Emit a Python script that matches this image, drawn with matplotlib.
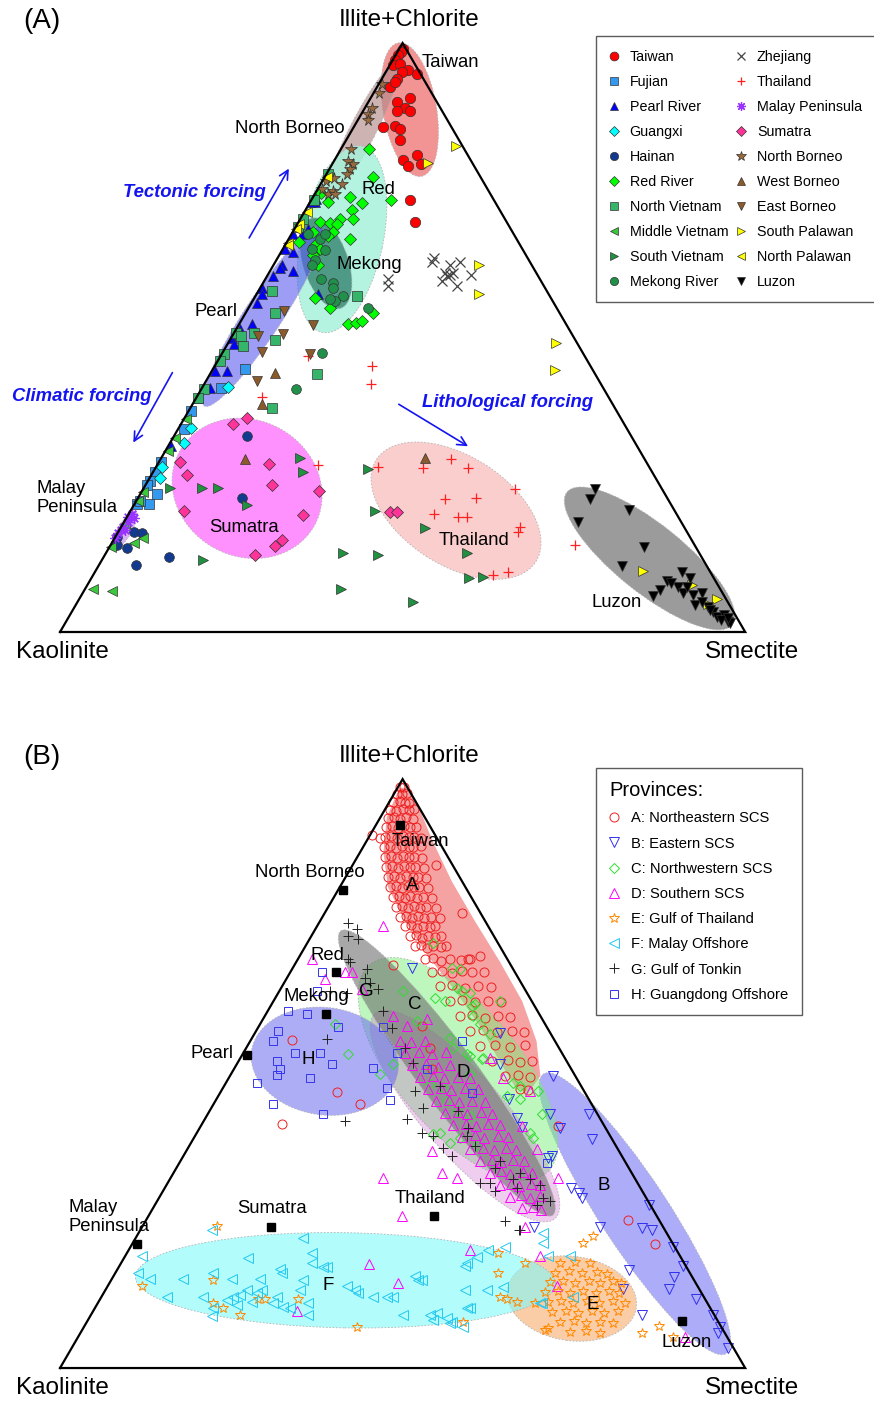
import numpy as np
import matplotlib.pyplot as plt
from matplotlib.patches import Ellipse, Polygon

plt.rcParams['font.family'] = ['Liberation Sans', 'DejaVu Sans']

H = np.sqrt(3) / 2

# Every sample is (illite+chlorite %, smectite %); kaolinite is the remainder.

# ---------------- (A) river / source-rock samples ----------------
taiwan = [(99.0, 0.5), (98.5, 0.5), (98.0, 0.3), (97.1, 0.3), (96.3, 0.5), (96.4, 1.4), (95.4, 3.1),
          (95.1, 2.3), (93.9, 2.3), (92.6, 1.9), (93.4, 2.2), (94.8, 4.7), (90.0, 4.2), (90.7, 5.8),
          (89.0, 5.9), (88.5, 6.9), (88.5, 5.0), (85.8, 4.3), (86.0, 5.9), (85.4, 6.9), (83.6, 7.8),
          (81.0, 11.6), (80.2, 10.0), (79.2, 11.2), (79.5, 13.0), (73.3, 14.5), (69.7, 16.9)]
fujian = [(44.7, 4.7), (41.5, 2.7), (37.6, 0.3), (34.5, 0.9), (27.2, 0.3), (25.7, 0.3), (23.5, 2.4),
          (21.8, 2.1), (21.8, 0.3), (24.9, 0.3), (28.8, 0.3), (22.3, 0.5)]
pearl_river = [(73.6, 0.5), (73.1, 0.7), (73.0, 0.2), (68.5, 2.0), (67.5, 1.6), (67.5, 0.3), (65.1, 0.3),
               (64.6, 1.7), (62.4, 1.2), (61.3, 3.4), (60.4, 0.9), (61.8, 1.2), (58.4, 0.3), (57.4, 0.8),
               (55.8, 0.9), (57.4, 9.0), (52.3, 1.9), (51.4, 0.6), (49.9, 0.2), (48.9, 0.9), (44.3, 0.4),
               (44.3, 2.2), (41.5, 1.2), (39.8, 0.2), (31.5, 0.5)]
guangxi = [(41.6, 3.7), (34.7, 1.7), (32.1, 2.1), (28.1, 0.9), (26.1, 1.6)]
hainan = [(33.3, 10.7), (22.8, 15.2), (16.9, 2.4), (16.8, 3.6), (16.2, 0.2), (14.7, 0.9), (14.2, 2.7),
          (12.7, 9.6), (11.3, 5.5)]
red_river = [(82.1, 4.0), (77.3, 7.0), (77.2, 0.5), (74.5, 0.8), (73.1, 2.6), (73.9, 5.3), (72.8, 7.7),
             (71.7, 6.7), (70.2, 7.7), (70.2, 5.8), (69.7, 3.1), (69.4, 4.7), (69.2, 5.8), (68.0, 5.9),
             (68.0, 2.9), (67.2, 5.5), (65.8, 4.3), (65.1, 5.4), (64.1, 4.9), (66.8, 8.9), (62.4, 6.5),
             (56.7, 8.8), (55.0, 11.9), (52.3, 15.9), (52.5, 16.9), (52.8, 17.7), (54.1, 18.6),
             (73.3, 11.6), (66.3, 1.8)]
north_vietnam = [(77.7, 0.3), (73.4, 0.3), (70.2, 0.3), (68.8, 0.3), (57.9, 2.0), (54.1, 4.3), (57.0, 14.9),
                 (50.8, 0.3), (50.3, 1.2), (50.7, 2.9), (48.6, 2.4), (49.6, 6.6), (47.2, 0.3), (46.0, 0.3),
                 (41.3, 0.3), (39.8, 0.3), (43.8, 15.6), (38.1, 11.9)]
middle_vietnam = [(36.2, 0.3), (33.0, 0.3), (30.8, 0.3), (23.7, 0.3), (22.3, 0.3), (18.4, 0.3), (15.1, 3.2),
                  (15.9, 4.1), (14.4, 0.3), (7.3, 1.2), (6.9, 4.2)]
south_vietnam = [(24.5, 3.8), (24.4, 8.5), (24.5, 10.8), (21.5, 16.6), (29.6, 20.2), (27.2, 21.9),
                 (27.7, 31.1), (20.6, 35.7), (13.4, 34.6), (13.0, 39.9), (12.2, 14.8), (7.3, 37.3),
                 (5.1, 48.9), (17.6, 44.5), (13.4, 52.7), (9.1, 55.1), (9.3, 57.1)]
mekong_river = [(67.5, 2.4), (66.8, 4.6), (67.5, 4.9), (65.1, 4.2), (64.8, 6.3), (63.1, 5.6), (62.4, 5.6),
                (59.9, 8.2), (59.2, 10.3), (58.4, 10.7), (57.0, 12.8), (56.2, 12.0), (56.5, 11.1),
                (55.0, 17.5), (47.4, 14.5), (41.3, 13.8)]
zhejiang = [(63.5, 22.8), (62.9, 22.8), (62.4, 25.7), (62.9, 26.9), (60.9, 25.7), (60.4, 26.3), (60.7, 26.5),
            (60.9, 26.9), (59.6, 26.0), (58.7, 28.6), (60.7, 29.7), (59.9, 17.9), (58.7, 18.5)]
thailand = [(46.9, 12.7), (45.2, 22.9), (42.1, 24.4), (39.9, 9.5), (28.4, 23.5), (28.1, 32.3), (29.4, 42.4),
            (27.9, 39.0), (27.9, 45.6), (24.2, 54.3), (22.5, 44.9), (22.7, 49.3), (20.1, 44.6), (19.5, 48.3),
            (19.5, 49.6), (17.9, 58.2), (16.9, 58.4), (9.6, 58.4), (10.2, 60.3), (14.7, 67.8)]
malay_peninsula = [(20.1, 0.4), (19.3, 1.1), (18.6, 0.6), (17.8, 0.3), (17.3, 0.2), (16.8, 0.1), (15.9, 0.1),
                   (17.3, 0.9), (19.5, 0.1)]
sumatra = [(35.4, 7.6), (36.4, 9.1), (28.8, 3.1), (26.6, 5.2), (28.6, 16.2), (24.9, 18.5), (23.9, 25.8),
           (20.5, 7.8), (19.8, 25.6), (15.7, 24.5), (14.6, 24.1), (13.0, 22.0), (20.3, 38.0), (20.3, 39.1)]
north_borneo = [(93.0, 0.5), (91.5, 0.8), (88.0, 1.0), (87.0, 1.5), (82.0, 1.5), (80.0, 2.0), (79.4, 3.1),
                (78.7, 3.0), (77.7, 3.1), (76.1, 3.1), (74.8, 2.5), (74.3, 2.0), (74.3, 3.0), (76.5, 0.5),
                (75.3, 0.6), (77.1, 1.4), (89.0, 1.0)]
west_borneo = [(44.0, 9.4), (29.3, 12.3), (38.7, 10.2), (29.6, 38.5)]
east_borneo = [(54.5, 5.4), (52.1, 10.8), (50.6, 7.3), (47.5, 5.7), (47.2, 12.9), (42.6, 7.5), (50.3, 3.8)]
south_palawan = [(82.6, 16.5), (62.4, 30.0), (57.4, 32.5), (79.7, 13.8), (49.1, 47.8), (44.5, 50.0),
                 (10.3, 79.9), (8.0, 88.3), (4.7, 92.2), (5.6, 93.1)]
north_palawan = [(71.4, 0.3), (69.2, 0.3), (68.4, 0.3), (66.0, 0.3), (65.8, 0.4), (77.3, 0.3)]
luzon = [(24.2, 66.0), (22.5, 66.1), (20.8, 72.7), (18.6, 66.3), (14.4, 78.1), (11.2, 76.4), (8.6, 84.3),
         (10.2, 85.7), (9.1, 87.4), (7.1, 84.0), (6.1, 83.5), (7.6, 86.4), (6.6, 87.6), (6.3, 89.3),
         (6.6, 90.4), (4.6, 90.4), (4.2, 92.4), (3.4, 93.6), (2.5, 94.6), (2.9, 95.4), (1.7, 96.6),
         (2.0, 95.4), (1.5, 97.0), (3.7, 93.0), (7.6, 87.7), (8.3, 85.0), (5.1, 91.2), (2.4, 96.3)]

# ---------------- (B) surface-sediment provinces ----------------
prov_a = [(98.6, 0.3), (98.6, 0.9), (97.5, 0.4), (97.4, 1.2), (97.6, 1.8), (96.1, 0.6), (96.3, 1.4),
          (95.9, 2.4), (96.0, 3.0), (94.8, 0.8), (94.6, 1.8), (94.9, 2.6), (94.7, 3.6), (94.9, 4.2),
          (93.4, 1.2), (93.6, 2.0), (93.2, 3.0), (93.5, 3.7), (93.3, 4.8), (91.9, 1.6), (92.1, 2.4),
          (91.7, 3.5), (92.0, 4.2), (91.8, 5.2), (91.9, 6.0), (90.2, 2.3), (90.4, 3.1), (90.0, 4.2),
          (90.3, 4.9), (90.1, 5.9), (90.2, 6.6), (90.0, 7.7), (88.5, 3.0), (88.7, 3.8), (88.3, 4.9),
          (88.6, 5.6), (88.4, 6.7), (88.5, 7.3), (88.6, 8.4), (86.8, 4.0), (87.0, 4.8), (86.6, 5.9),
          (86.9, 6.6), (86.7, 7.6), (86.8, 8.3), (86.6, 9.5), (85.1, 5.0), (85.3, 5.8), (84.9, 6.9),
          (85.2, 7.6), (85.0, 8.6), (85.1, 9.3), (84.9, 10.7), (83.4, 6.2), (83.6, 7.0), (83.2, 8.0),
          (83.5, 8.7), (83.3, 9.8), (83.4, 10.5), (83.2, 11.8), (81.7, 7.3), (81.9, 8.1), (81.5, 9.2),
          (81.8, 9.9), (81.6, 10.9), (81.7, 11.6), (81.5, 13.0), (80.0, 8.6), (80.2, 9.4), (79.8, 10.5),
          (80.1, 11.1), (79.9, 12.2), (80.0, 13.0), (79.8, 14.4), (78.3, 9.9), (78.5, 10.7), (78.1, 11.8),
          (78.4, 12.4), (78.2, 13.5), (78.3, 14.3), (78.1, 15.8), (76.6, 11.3), (76.8, 12.1), (76.4, 13.2),
          (76.7, 13.9), (76.5, 14.9), (76.6, 15.8), (76.4, 17.3), (75.0, 12.9), (75.2, 13.6), (74.8, 14.7),
          (75.1, 15.4), (74.9, 16.5), (75.0, 17.3), (73.3, 14.4), (73.5, 15.2), (73.1, 16.3), (73.4, 17.0),
          (73.2, 18.2), (73.3, 19.0), (71.6, 16.0), (71.8, 16.8), (71.4, 17.9), (71.7, 18.6), (71.5, 19.8),
          (71.6, 20.6), (69.4, 18.6), (69.6, 19.7), (69.2, 21.0), (69.5, 22.1), (69.3, 23.8), (69.4, 25.1),
          (67.3, 20.7), (67.5, 22.0), (67.1, 23.7), (67.4, 24.9), (67.2, 26.6), (67.3, 28.3), (64.8, 23.1),
          (65.0, 24.7), (64.6, 26.8), (64.9, 28.5), (64.7, 30.5), (62.3, 25.8), (62.5, 27.4), (62.1, 29.5),
          (62.4, 31.2), (62.2, 33.2), (59.7, 28.5), (59.9, 30.2), (59.5, 32.3), (59.8, 34.0), (59.6, 35.9),
          (57.2, 31.3), (57.4, 33.1), (57.0, 35.3), (57.3, 37.3), (57.1, 39.2), (54.7, 34.0), (54.9, 36.1),
          (54.5, 38.4), (54.8, 40.4), (52.1, 37.0), (52.3, 39.3), (51.9, 41.2), (52.2, 42.8), (49.6, 40.2),
          (49.8, 42.0), (49.4, 43.9), (47.4, 43.5), (47.2, 44.7),
          (90.5, 0.3), (90.0, 1.7), (85.4, 12.2), (77.3, 20.0), (68.5, 14.4), (69.9, 26.4), (69.4, 24.9),
          (55.7, 6.0), (46.9, 17.0), (44.8, 21.4), (41.5, 11.7), (25.2, 70.3), (21.0, 76.4), (41.1, 52.2),
          (58.0, 23.8), (54.3, 26.9), (50.8, 28.9)]
prov_b = [(49.6, 47.2), (43.1, 55.7), (38.9, 58.2), (43.1, 50.0), (40.8, 52.6), (35.7, 53.4), (30.5, 59.3),
          (28.8, 61.8), (29.8, 60.9), (27.6, 72.2), (23.9, 66.9), (23.7, 73.1), (23.4, 74.7), (20.5, 79.2),
          (17.4, 82.2), (16.6, 74.8), (15.4, 81.9), (13.4, 82.2), (11.7, 86.9), (9.0, 80.5), (9.0, 90.8),
          (6.9, 92.9), (5.9, 93.1), (3.4, 95.8), (13.4, 75.5), (23.9, 57.2), (56.9, 35.8), (51.6, 38.4),
          (45.7, 42.7), (42.5, 45.5), (40.9, 47.0), (36.0, 53.8), (68.0, 17.4)]
prov_c = [(72.1, 18.4), (67.7, 24.5), (64.0, 18.1), (62.8, 23.3), (62.3, 25.1), (64.0, 26.7), (61.8, 29.7),
          (59.7, 30.4), (53.3, 15.4), (58.4, 11.0), (49.9, 21.8), (51.6, 22.8), (52.6, 35.5), (53.3, 32.8),
          (46.2, 42.2), (47.9, 43.2), (47.0, 46.3), (43.1, 48.8), (48.2, 29.9), (47.5, 32.2), (49.9, 34.9),
          (45.3, 33.9), (61.4, 29.5), (56.7, 34.4), (53.0, 33.4), (52.5, 35.4), (54.3, 30.2), (48.4, 41.9),
          (45.7, 44.3), (39.9, 48.7), (39.1, 49.5), (37.7, 42.0), (39.9, 35.5), (38.2, 37.8), (42.8, 38.5),
          (67.9, 23.3), (58.4, 32.1), (62.3, 33.1), (63.6, 28.1), (64.5, 25.7), (58.9, 22.7), (56.0, 28.9),
          (39.1, 38.8), (39.8, 34.6), (43.7, 36.1)]
prov_d = [(55.5, 21.9), (55.3, 23.6), (55.6, 25.5), (53.5, 23.6), (53.7, 25.5), (53.3, 27.6), (53.6, 29.5),
          (51.4, 25.7), (51.6, 27.6), (51.2, 29.5), (51.5, 31.2), (49.4, 27.9), (49.6, 29.6), (49.2, 31.5),
          (49.5, 33.4), (49.3, 35.2), (47.4, 30.0), (47.6, 31.8), (47.2, 33.5), (47.5, 35.4), (47.3, 37.3),
          (45.3, 32.2), (45.5, 34.0), (45.1, 35.7), (45.4, 37.5), (45.2, 39.4), (43.3, 34.6), (43.5, 36.3),
          (43.1, 37.9), (43.4, 39.7), (43.2, 41.4), (41.3, 36.7), (41.5, 38.5), (41.1, 40.2), (41.4, 41.8),
          (41.2, 43.6), (39.3, 39.0), (39.5, 40.8), (39.1, 42.4), (39.4, 44.2), (39.2, 45.8), (37.2, 41.3),
          (37.4, 43.0), (37.0, 44.8), (37.3, 46.4), (37.1, 48.0), (35.2, 43.7), (35.4, 45.3), (35.0, 46.9),
          (35.3, 48.5), (35.1, 50.1), (33.2, 46.2), (33.4, 47.6), (33.0, 49.2), (33.3, 50.9), (33.1, 52.3),
          (31.1, 48.7), (31.3, 50.1), (30.9, 51.6), (31.2, 53.1), (31.0, 54.5), (29.1, 51.1), (29.3, 52.6),
          (28.9, 54.1), (29.2, 55.5), (27.1, 53.9), (27.3, 55.4), (26.9, 56.8),
          (75.0, 9.7), (69.5, 2.0), (66.0, 5.7), (67.3, 8.0), (67.3, 9.0), (64.3, 11.9), (59.7, 18.8),
          (58.0, 21.7), (52.6, 36.5), (49.2, 40.1), (47.0, 45.1), (41.1, 46.9), (37.2, 51.0), (32.3, 56.6),
          (59.2, 24.0), (36.9, 35.9), (33.2, 39.2), (32.3, 41.8), (32.3, 31.0), (25.9, 37.0), (23.9, 55.9),
          (20.0, 49.9), (19.1, 60.5), (13.9, 65.6), (14.4, 42.1), (17.6, 36.3), (9.6, 29.8), (5.2, 88.6)]
prov_e = [(17.9, 64.0), (18.0, 66.2), (17.8, 68.4), (16.2, 64.2), (16.4, 66.1), (16.1, 68.1), (16.3, 70.2),
          (16.0, 71.9), (14.6, 64.2), (14.8, 66.0), (14.5, 67.9), (14.7, 69.8), (14.5, 71.5), (14.7, 73.3),
          (14.4, 74.7), (12.9, 64.4), (13.1, 66.1), (12.8, 68.0), (13.0, 69.9), (12.8, 71.8), (13.0, 73.6),
          (12.7, 75.3), (11.2, 65.6), (11.4, 67.4), (11.1, 69.3), (11.3, 71.2), (11.1, 73.1), (11.3, 75.0),
          (11.0, 76.9), (9.5, 67.1), (9.7, 69.0), (9.4, 70.9), (9.6, 72.8), (9.4, 74.7), (9.6, 76.6),
          (7.8, 69.1), (8.0, 71.0), (7.7, 72.9), (7.9, 74.9), (7.7, 76.8), (6.1, 71.4), (6.3, 73.6),
          (6.0, 75.8), (21.3, 65.7), (22.5, 66.6), (17.9, 58.9), (19.5, 54.2), (16.1, 55.9), (12.0, 58.2),
          (11.2, 61.1), (6.8, 67.8), (5.9, 82.0), (7.1, 83.9), (5.2, 86.9), (24.2, 10.8), (14.9, 14.9),
          (13.9, 5.0), (11.0, 16.8), (10.2, 18.7), (9.0, 21.8), (11.8, 23.0), (11.8, 24.0), (11.8, 28.8),
          (6.9, 39.9), (7.8, 54.9), (11.8, 59.4), (11.0, 63.8), (6.4, 67.6)]
prov_f = [(22.0, 24.5), (19.6, 27.0), (18.6, 18.1), (16.9, 23.7), (16.2, 24.3), (17.1, 29.8), (17.1, 30.4),
          (17.9, 27.8), (19.1, 2.4), (16.1, 3.3), (15.1, 5.6), (15.1, 10.4), (12.0, 9.6), (12.0, 14.9),
          (16.1, 14.3), (15.1, 17.6), (15.1, 21.6), (10.2, 17.2), (8.8, 17.8), (11.5, 18.6), (12.0, 19.3),
          (12.4, 20.1), (13.2, 20.7), (12.7, 22.4), (13.2, 22.9), (10.7, 20.5), (11.2, 22.4), (12.0, 25.7),
          (11.0, 25.6), (10.3, 27.4), (10.2, 28.5), (14.9, 28.0), (13.2, 28.4), (11.0, 30.7), (9.0, 31.7),
          (13.9, 34.9), (13.2, 36.5), (12.7, 37.2), (12.0, 39.7), (12.0, 41.7), (12.0, 42.6), (15.7, 44.0),
          (14.9, 44.8), (14.9, 45.4), (9.0, 45.6), (9.0, 49.5), (9.3, 50.4), (8.5, 52.3), (7.6, 53.1),
          (6.9, 55.4), (10.2, 54.3), (13.2, 52.5), (13.2, 55.7), (13.7, 57.8), (17.4, 50.4), (18.8, 51.5),
          (20.0, 52.5), (20.5, 54.7), (23.5, 10.4), (23.0, 59.0), (21.3, 59.9), (19.1, 61.7), (19.1, 64.9),
          (11.0, 64.9), (12.0, 68.9), (17.8, 50.5), (10.2, 54.8), (8.1, 50.4), (7.8, 53.3), (11.0, 64.6)]
prov_g = [(75.6, 4.2), (74.6, 6.1), (73.3, 5.4), (72.8, 7.1), (69.5, 7.3), (69.0, 7.8), (67.7, 11.0),
          (66.2, 11.4), (65.3, 12.6), (64.3, 14.3), (63.6, 10.1), (64.0, 7.4), (55.8, 11.1), (60.6, 16.9),
          (57.7, 19.6), (54.3, 23.2), (51.8, 25.6), (47.0, 28.3), (44.2, 30.9), (42.3, 29.5), (39.9, 32.9),
          (42.0, 20.6), (37.4, 37.2), (36.0, 39.2), (40.8, 39.2), (39.4, 39.7), (39.4, 34.8), (31.5, 45.6),
          (31.5, 47.0), (34.0, 46.5), (30.1, 48.5), (25.0, 52.5), (23.4, 55.5), (33.2, 50.6), (32.1, 52.6),
          (31.0, 54.6), (28.9, 56.1), (28.4, 57.3), (27.6, 55.8), (32.1, 50.1), (30.6, 51.4), (23.5, 55.3),
          (47.9, 31.5), (43.7, 36.3), (37.7, 41.7), (35.2, 46.6)]
prov_h = [(67.3, 4.6), (64.0, 5.5), (60.6, 3.0), (60.1, 6.0), (57.9, 11.6), (55.5, 3.3), (57.2, 3.2),
          (53.5, 7.6), (52.1, 5.6), (50.8, 6.7), (49.7, 6.8), (48.4, 4.6), (53.5, 11.2), (51.6, 13.9),
          (49.2, 11.9), (44.8, 8.7), (43.1, 16.8), (45.5, 25.4), (50.9, 20.2), (57.9, 18.2), (53.5, 22.4),
          (50.8, 28.2), (47.5, 24.0), (46.7, 36.8), (34.9, 53.6), (55.5, 30.9)]

# end-member river compositions shown as black squares in (B)
end_names = ['Taiwan', 'North Borneo', 'Red', 'Mekong', 'Pearl', 'Malay\nPeninsula', 'Sumatra',
             'Thailand', 'Luzon']
end_comp = [(92.2, 3.5), (81.2, 0.7), (67.2, 6.7), (60.1, 8.8), (53.1, 0.7), (21.0, 0.7), (24.0, 18.8),
            (25.9, 41.7), (8.0, 86.8)]

# outline of the curved province-A field
prov_a_outline = [(98.5, 0.3), (93.6, 0.9), (87.6, 3.4), (81.7, 7.0), (75.8, 12.5), (69.9, 18.8),
                  (64.0, 25.7), (58.0, 32.3), (52.1, 38.1), (47.9, 42.4), (46.5, 45.0), (49.6, 45.3),
                  (55.5, 41.8), (62.3, 36.3), (69.0, 29.7), (75.8, 22.7), (82.6, 15.9), (89.3, 9.8),
                  (95.3, 4.7), (98.6, 1.2)]


def tern(points):
    arr = np.asarray(points, dtype=float)
    ill, sme = arr[:, 0], arr[:, 1]
    return sme + ill / 2, ill * H


def field(ax, comp, major, minor, angle, color, alpha):
    x, y = tern([comp])
    ax.add_patch(Ellipse((x[0], y[0]), major, minor, angle=angle, facecolor=color, alpha=alpha,
                         edgecolor='none', zorder=1))
    ax.add_patch(Ellipse((x[0], y[0]), major, minor, angle=angle, facecolor='none',
                         edgecolor='#b4b4b4', lw=0.6, ls=(0, (2, 2)), zorder=1))


def triangle(ax, ylim, tag):
    ax.set_xlim(-8.76, 118.8)
    ax.set_ylim(*ylim)
    ax.axis('off')
    ax.plot([0, 100, 50, 0], [0, 0, 100 * H, 0], color='black', lw=1.6, zorder=6,
            solid_joinstyle='miter')
    ax.text(50.9, 90.0, 'Illite+Chlorite', fontsize=17.5, ha='center', va='center')
    ax.text(0.3, -3.0, 'Kaolinite', fontsize=17.5, ha='center', va='center')
    ax.text(101.0, -3.0, 'Smectite', fontsize=17.5, ha='center', va='center')
    ax.text(-2.6, 89.8, tag, fontsize=20, ha='center', va='center')


fig = plt.figure(figsize=(8.74, 14.04), dpi=100)
ax_a = fig.add_axes([0, 1 - 700 / 1404, 1, 700 / 1404])
ax_b = fig.add_axes([0, 0, 1, 704 / 1404])
triangle(ax_a, (-10.0, 92.94), '(A)')
triangle(ax_b, (-5.29, 98.24), '(B)')

# ---------- panel A ----------
field(ax_a, (88.7, 6.7), 19.9, 7.8, 99.6, '#f07a7a', 0.8)
field(ax_a, (85.1, 1.6), 23.0, 3.8, 63, '#b58a8a', 0.65)
field(ax_a, (66.7, 7.8), 28.0, 12.0, 78, '#a6f2da', 0.85)
field(ax_a, (62.6, 7.5), 13.9, 6.6, 108, '#2e7d68', 0.75)
field(ax_a, (53.6, 2.8), 31.4, 5.5, 57, '#5c5cf0', 0.6)
field(ax_a, (17.3, 0.8), 6.5, 2.0, 60, '#c890f0', 0.7)
field(ax_a, (24.4, 15.1), 22.5, 20.0, -30, '#ff85ff', 0.9)
field(ax_a, (20.6, 47.5), 27.7, 16.0, -33, '#fbc6c6', 0.85)
field(ax_a, (12.5, 79.8), 31.0, 10.0, -39, '#8a8a8a', 0.85)

series_a = [
    ('Taiwan', taiwan, 'o', '#ff0000', 7.5),
    ('Fujian', fujian, 's', '#3399ee', 6.5),
    ('Pearl River', pearl_river, '^', '#0000ff', 7.5),
    ('Guangxi', guangxi, 'D', '#00ffff', 6.0),
    ('Hainan', hainan, 'o', '#123a8f', 7.0),
    ('Red River', red_river, 'D', '#00ff00', 6.0),
    ('North Vietnam', north_vietnam, 's', '#35b56a', 6.5),
    ('Middle Vietnam', middle_vietnam, '<', '#3cc83c', 7.5),
    ('South Vietnam', south_vietnam, '>', '#1f9140', 7.5),
    ('Mekong River', mekong_river, 'o', '#21904a', 7.0),
    ('Zhejiang', zhejiang, 'x', '#444444', 7.0),
    ('Thailand', thailand, '+', '#ff2020', 7.5),
    ('Malay Peninsula', malay_peninsula, (8, 2, 0), '#9933ff', 7.5),
    ('Sumatra', sumatra, 'D', '#ff3399', 6.0),
    ('North Borneo', north_borneo, '*', '#9a6a3a', 8.5),
    ('West Borneo', west_borneo, '^', '#8b5a2b', 7.5),
    ('East Borneo', east_borneo, 'v', '#8b5a2b', 7.5),
    ('South Palawan', south_palawan, '>', '#ffff00', 7.5),
    ('North Palawan', north_palawan, '<', '#ffff00', 7.5),
    ('Luzon', luzon, 'v', '#000000', 7.5),
]
for name, pts, mk, col, ms in series_a:
    x, y = tern(pts)
    if mk in ('x', '+') or isinstance(mk, tuple):
        ax_a.plot(x, y, ls='none', marker=mk, ms=ms, mec=col, mew=0.9, label=name, zorder=4)
    else:
        ax_a.plot(x, y, ls='none', marker=mk, ms=ms, mfc=col, mec='#333333', mew=0.5,
                  label=name, zorder=4)

ax_a.legend(ncol=2, loc='upper left', bbox_to_anchor=(596 / 874, 1 - 36 / 1404),
            bbox_transform=fig.transFigure, fontsize=10.3, frameon=True, fancybox=False,
            edgecolor='#333333', borderpad=0.95, handlelength=0.6, handletextpad=0.8,
            columnspacing=0.6, labelspacing=0.77, markerscale=0.85, borderaxespad=0)

for txt, xy in [('Taiwan', (56.9, 83.8)), ('North Borneo', (33.6, 74.1)), ('Red', (46.4, 65.0)),
                ('Mekong', (45.1, 54.1)), ('Pearl', (22.8, 47.1)), ('Sumatra', (26.9, 15.4)),
                ('Thailand', (60.4, 13.5)), ('Luzon', (81.2, 4.3))]:
    ax_a.text(*xy, txt, fontsize=13.3, ha='center', va='center', zorder=7)
ax_a.text(-3.36, 19.7, 'Malay\nPeninsula', fontsize=13.3, ha='left', va='center',
          linespacing=1.1, zorder=7)

forcing = dict(fontsize=13.3, fontweight='bold', fontstyle='italic', color='#1414f0',
               ha='center', va='center', zorder=7)
ax_a.text(19.6, 64.6, 'Tectonic forcing', **forcing)
ax_a.text(3.2, 34.7, 'Climatic forcing', **forcing)
ax_a.text(65.3, 33.7, 'Lithological forcing', **forcing)
arrow = dict(arrowstyle='->', color='#1414f0', lw=1.2, mutation_scale=16)
ax_a.annotate('', xy=(33.6, 68.5), xytext=(27.4, 57.6), arrowprops=arrow)
ax_a.annotate('', xy=(10.5, 27.5), xytext=(16.6, 38.5), arrowprops=arrow)
ax_a.annotate('', xy=(59.9, 27.1), xytext=(49.1, 33.7), arrowprops=arrow)

# ---------- panel B ----------
ax_b.add_patch(Polygon(np.column_stack(tern(prov_a_outline)), closed=True, facecolor='#f07070',
                       alpha=0.65, edgecolor='none', zorder=1))
field(ax_b, (26.2, 70.8), 49.0, 10.0, -57, '#5a5af5', 0.5)
field(ax_b, (50.8, 32.7), 40.0, 18.0, -50, '#7cf07c', 0.5)
field(ax_b, (42.8, 37.7), 40.0, 11.7, -49, '#d070d0', 0.35)
field(ax_b, (11.8, 68.8), 19.0, 12.4, -8, '#f6a560', 0.55)
field(ax_b, (14.9, 34.2), 61.3, 14.0, -1, '#7ffafa', 0.6)
field(ax_b, (50.1, 31.4), 52.0, 8.5, -53.5, '#6e6e6e', 0.6)
field(ax_b, (52.1, 12.6), 21.6, 15.8, -8, '#6a6af0', 0.55)

series_b = [
    ('A: Northeastern SCS', prov_a, 'o', '#ee2020', 6.5),
    ('B: Eastern SCS', prov_b, 'v', '#3030ee', 6.5),
    ('C: Northwestern SCS', prov_c, 'D', '#30dd30', 5.5),
    ('D: Southern SCS', prov_d, '^', '#ff00ff', 6.5),
    ('E: Gulf of Thailand', prov_e, '*', '#ff8800', 7.5),
    ('F: Malay Offshore', prov_f, '<', '#22c8f0', 6.5),
    ('G: Gulf of Tonkin', prov_g, '+', '#222222', 6.5),
    ('H: Guangdong Offshore', prov_h, 's', '#3535ee', 6.0),
]
for name, pts, mk, col, ms in series_b:
    x, y = tern(pts)
    ax_b.plot(x, y, ls='none', marker=mk, ms=ms, mfc='none', mec=col, mew=0.7, label=name, zorder=4)

ex, ey = tern(end_comp)
ax_b.plot(ex, ey, ls='none', marker='s', ms=6, color='black', zorder=5)

ax_b.legend(loc='upper left', bbox_to_anchor=(596 / 874, 1 - 768 / 1404), bbox_transform=fig.transFigure,
            title='Provinces:', title_fontsize=14.5, alignment='left', fontsize=10.6, frameon=True,
            fancybox=False, edgecolor='#333333', borderpad=0.9, handlelength=0.7, handletextpad=0.8,
            labelspacing=0.76, borderaxespad=0)

for txt, xy in [('Taiwan', (52.6, 77.4)), ('North Borneo', (36.4, 72.9)), ('Red', (39.1, 60.6)),
                ('Mekong', (37.4, 54.6)), ('Pearl', (22.2, 46.2)), ('Sumatra', (30.9, 23.5)),
                ('Thailand', (54.0, 25.0)), ('Luzon', (91.5, 3.8))]:
    ax_b.text(*xy, txt, fontsize=13.3, ha='center', va='center', zorder=7)
ax_b.text(1.3, 22.2, 'Malay\nPeninsula', fontsize=13.3, ha='left', va='center', linespacing=1.1, zorder=7)

for txt, xy in [('A', (51.4, 70.9)), ('B', (79.4, 26.9)), ('C', (51.7, 53.5)), ('D', (58.8, 43.4)),
                ('E', (77.8, 9.4)), ('F', (39.1, 12.2)), ('G', (44.7, 55.4)), ('H', (36.2, 45.3))]:
    ax_b.text(*xy, txt, fontsize=13.5, ha='center', va='center', zorder=7)

fig.savefig('out.png', dpi=100)
